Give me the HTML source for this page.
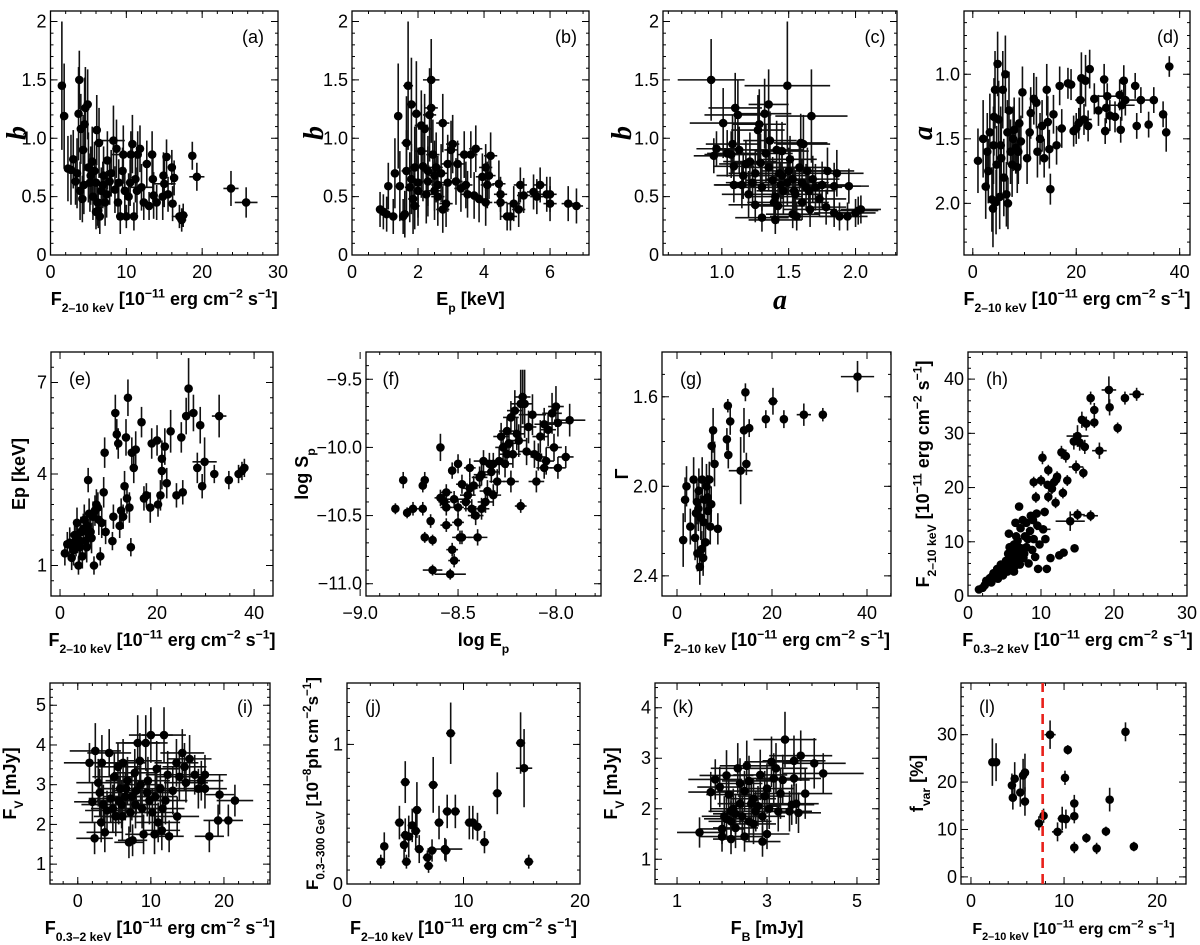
<!DOCTYPE html>
<html><head><meta charset="utf-8"><style>
html,body{margin:0;padding:0;background:#fff;}
svg{display:block;font-family:"Liberation Sans",Arial,sans-serif;}
</style></head><body>
<svg id="fig" width="1200" height="945" viewBox="0 0 1200 945"></svg>
<script>
// ---------- DATA ----------
const aX=[1.5,1.8,2.3,2.7,3.0,3.3,3.5,3.8,3.7,4.0,4.2,4.3,4.5,4.6,4.9,5.0,5.2,5.5,5.8,6.0,6.1,6.2,6.4,6.5,6.7,7.0,7.2,7.5,7.8,8.3,8.5,8.7,9.0,9.2,9.5,9.6,9.8,10.0,10.3,10.6,10.8,11.0,11.2,11.5,11.8,12.0,12.3,12.7,13.0,13.4,13.5,13.6,14.0,14.8,14.9,15.0,15.3,15.5,16.0,16.1,16.3,17.0,17.3,17.5,18.7,19.3,23.8,25.8,4.4,5.6,6.3,6.9,7.4,8.0,8.9,10.5,11.4,5.3,6.0,3.9];
const aY=[1.45,1.19,0.74,0.73,0.82,0.63,0.7,1.5,1.21,1.08,0.48,0.9,1.12,1.26,1.29,0.75,0.62,0.8,0.72,0.37,1.07,0.45,0.96,0.33,0.55,0.68,0.45,0.81,0.63,0.98,0.56,0.91,0.62,0.33,0.72,0.86,0.55,0.33,0.5,0.86,0.95,0.33,0.65,0.86,0.91,0.58,0.45,0.78,0.42,0.86,0.65,0.51,0.45,0.5,0.68,0.61,0.84,0.52,0.75,0.44,0.66,0.33,0.3,0.34,0.85,0.67,0.57,0.45,0.6,0.5,0.38,0.6,0.52,0.7,0.45,0.62,0.55,0.68,0.62,0.55];
const aXE=[0.2,0.2,0.3,0.3,0.3,0.3,0.3,0.3,0.3,0.3,0.3,0.3,0.3,0.3,0.3,0.5,0.5,0.5,0.5,0.4,0.4,0.4,0.5,0.4,0.5,0.5,0.5,0.5,0.5,1.5,0.5,0.5,0.5,0.4,0.5,1.5,0.5,0.4,0.5,0.5,0.5,0.4,0.5,0.5,0.5,1.5,0.5,0.5,0.5,0.5,0.5,0.5,0.5,0.5,0.5,1.5,0.5,0.5,0.5,0.5,0.5,1.0,0.6,0.6,0.5,1.0,1.0,1.5,0.4,0.5,0.5,0.5,0.5,0.5,0.5,0.5,0.5,0.5,0.5,0.4];
const aYE=[0.55,0.45,0.28,0.3,0.25,0.2,0.3,0.25,0.4,0.3,0.2,0.3,0.4,0.35,0.3,0.3,0.25,0.3,0.25,0.15,0.3,0.2,0.3,0.15,0.2,0.25,0.2,0.25,0.2,0.3,0.2,0.25,0.2,0.15,0.2,0.25,0.2,0.1,0.2,0.2,0.25,0.12,0.2,0.2,0.2,0.2,0.15,0.2,0.12,0.2,0.2,0.2,0.15,0.2,0.2,0.2,0.15,0.15,0.15,0.15,0.15,0.1,0.1,0.1,0.12,0.12,0.15,0.13,0.25,0.2,0.15,0.2,0.2,0.2,0.15,0.2,0.2,0.25,0.2,0.25];

const bX=[0.85,0.95,1.05,1.1,1.25,1.3,1.4,1.45,1.55,1.6,1.65,1.65,1.7,1.75,1.8,1.85,1.9,1.95,2.0,2.1,2.1,2.15,2.2,2.25,2.3,2.35,2.4,2.4,2.45,2.5,2.55,2.6,2.7,2.75,2.75,2.85,2.9,2.9,3.0,3.05,3.15,3.2,3.3,3.4,3.45,3.5,3.6,3.7,3.75,3.85,3.95,4.05,4.05,4.1,4.15,4.2,4.45,4.5,4.5,4.7,4.8,4.9,5.05,5.1,5.2,5.5,5.6,5.7,5.9,6.0,6.0,6.55,6.8,1.8,2.0,2.3,2.6,1.9,2.5];
const bY=[0.39,0.37,0.35,0.59,0.33,0.7,1.19,0.59,0.33,0.35,0.72,0.96,1.45,0.58,1.29,0.48,0.75,1.21,0.62,0.89,1.11,0.76,1.08,0.52,0.63,1.2,1.5,1.26,0.86,0.55,0.75,0.5,0.7,0.39,1.13,0.44,0.78,0.62,0.9,0.95,0.63,0.78,0.57,0.86,0.6,0.52,0.86,0.51,0.91,0.48,0.67,0.75,0.45,0.6,0.68,0.85,0.61,0.52,0.45,0.33,0.33,0.44,0.39,0.6,0.51,0.54,0.5,0.6,0.52,0.44,0.52,0.44,0.42,0.65,0.55,0.72,0.6,0.42,0.68];
const bXE=[0.1,0.1,0.1,0.1,0.12,0.12,0.12,0.12,0.12,0.12,0.15,0.15,0.15,0.15,0.15,0.15,0.15,0.15,0.15,0.2,0.2,0.2,0.2,0.2,0.2,0.2,0.25,0.2,0.2,0.2,0.2,0.2,0.2,0.2,0.2,0.2,0.2,0.2,0.2,0.2,0.2,0.2,0.2,0.2,0.2,0.2,0.2,0.2,0.2,0.2,0.2,0.2,0.2,0.2,0.2,0.2,0.2,0.2,0.2,0.2,0.2,0.2,0.2,0.2,0.2,0.2,0.2,0.2,0.2,0.2,0.2,0.2,0.2,0.15,0.15,0.2,0.2,0.15,0.2];
const bYE=[0.15,0.15,0.15,0.2,0.15,0.3,0.45,0.3,0.15,0.2,0.35,0.4,0.55,0.3,0.4,0.3,0.35,0.45,0.3,0.4,0.3,0.3,0.3,0.25,0.3,0.4,0.35,0.3,0.3,0.25,0.3,0.25,0.25,0.2,0.25,0.2,0.25,0.25,0.25,0.25,0.2,0.2,0.2,0.2,0.2,0.2,0.2,0.2,0.2,0.2,0.2,0.2,0.2,0.2,0.2,0.2,0.2,0.15,0.15,0.12,0.12,0.15,0.15,0.15,0.15,0.15,0.15,0.15,0.15,0.15,0.15,0.15,0.15,0.3,0.3,0.3,0.25,0.2,0.3];

const cX=[0.92,0.94,0.96,1.01,1.04,1.07,1.08,1.09,1.10,1.09,1.12,1.13,1.16,1.15,1.2,1.21,1.23,1.25,1.27,1.28,1.29,1.3,1.32,1.33,1.35,1.36,1.38,1.39,1.4,1.41,1.43,1.44,1.45,1.46,1.49,1.51,1.53,1.54,1.56,1.58,1.59,1.6,1.61,1.63,1.64,1.66,1.67,1.68,1.7,1.73,1.75,1.78,1.79,1.84,1.84,1.86,1.88,1.94,1.95,2.0,2.02,2.04,1.3,1.4,1.49,1.53,1.25,1.35,1.45,1.55,1.6,1.18,1.42,1.5,1.65];
const cY=[1.5,0.85,0.91,1.13,0.87,0.86,0.95,0.76,1.26,0.6,1.2,0.9,0.68,0.6,0.52,0.8,0.62,0.43,1.07,1.12,0.79,0.32,1.21,0.87,1.29,0.98,0.64,0.45,0.3,0.9,0.7,0.6,0.89,0.55,1.45,0.82,0.35,0.55,0.33,0.75,0.96,0.45,0.95,0.58,0.72,0.39,1.19,0.65,0.58,0.48,0.6,0.41,0.72,0.59,0.36,0.7,0.33,0.33,0.59,0.36,0.38,0.39,0.58,0.5,0.62,0.65,0.7,0.75,0.68,0.52,0.62,0.78,0.42,0.72,0.55];
const cXE=[0.25,0.15,0.15,0.25,0.15,0.2,0.2,0.15,0.2,0.15,0.25,0.2,0.2,0.2,0.2,0.2,0.2,0.2,0.2,0.2,0.2,0.2,0.2,0.2,0.15,0.2,0.2,0.2,0.2,0.2,0.2,0.2,0.2,0.2,0.32,0.2,0.2,0.2,0.2,0.2,0.2,0.2,0.2,0.2,0.2,0.2,0.27,0.2,0.2,0.2,0.2,0.15,0.2,0.2,0.15,0.2,0.15,0.15,0.15,0.15,0.15,0.15,0.2,0.2,0.2,0.2,0.2,0.2,0.2,0.2,0.2,0.2,0.2,0.2,0.2];
const cYE=[0.35,0.15,0.15,0.3,0.2,0.2,0.25,0.15,0.3,0.15,0.3,0.2,0.2,0.2,0.2,0.25,0.2,0.15,0.3,0.3,0.25,0.12,0.3,0.25,0.3,0.25,0.2,0.15,0.12,0.25,0.2,0.2,0.25,0.2,0.55,0.2,0.12,0.2,0.12,0.2,0.25,0.15,0.25,0.2,0.2,0.15,0.4,0.2,0.2,0.15,0.2,0.15,0.2,0.2,0.12,0.2,0.12,0.12,0.15,0.12,0.12,0.12,0.2,0.2,0.2,0.2,0.2,0.2,0.2,0.2,0.2,0.2,0.15,0.2,0.2];

const dX=[1,2,2.5,3,3.3,3.7,3.9,4.1,4.3,4.5,4.6,4.8,5.0,5.2,5.4,5.8,6.0,6.3,6.5,6.8,7.0,7.3,7.6,8.0,8.3,8.6,9.0,9.3,9.6,10.5,11.0,11.2,11.8,12.3,12.5,13.0,13.4,13.8,14.3,14.5,14.8,15.0,15.6,16.2,16.8,17.2,18.4,19.0,19.5,20.0,20.5,20.8,21.0,21.5,21.8,22.3,22.6,23.5,24.3,25.4,25.6,25.8,26.0,26.5,27.5,28.4,28.6,28.8,29.2,29.5,31.4,31.7,32.5,34,35,36.8,37.4,38.0,2.8,4.0,5.5,6.7,7.8,8.8];
const dY=[1.67,1.5,1.87,1.75,1.45,1.97,2.04,1.33,1.12,1.99,1.7,0.92,1.35,1.95,1.55,1.12,1.8,1.0,1.93,2.0,1.28,1.6,1.7,1.43,1.57,1.72,1.38,1.52,1.14,1.65,1.45,1.3,1.19,1.22,1.6,1.5,1.4,1.65,1.12,1.37,1.58,1.89,1.31,1.55,1.09,1.42,1.07,1.08,1.44,1.42,1.38,1.2,1.03,1.35,1.05,1.4,0.96,1.19,1.28,1.04,1.44,1.26,1.17,1.32,1.33,1.16,1.43,1.24,1.05,1.2,1.09,1.4,1.2,1.39,1.2,1.31,1.45,0.94,1.6,1.55,1.65,1.45,1.5,1.6];
const dXE=[0.5,0.5,0.5,0.5,0.5,0.5,0.5,0.5,0.5,0.5,0.5,0.5,0.5,0.5,0.5,0.5,0.5,0.5,0.5,0.5,0.5,0.5,0.5,0.5,0.5,0.5,0.5,0.5,0.5,0.6,0.6,0.6,0.6,0.6,0.6,0.6,0.6,0.6,0.6,0.6,0.6,0.6,0.6,0.6,0.8,0.8,0.8,0.8,0.8,0.8,0.8,1.0,0.8,1.5,0.8,0.8,0.8,0.8,0.8,0.8,0.8,0.8,2.5,0.8,0.8,0.8,0.8,2.5,0.8,0.8,0.8,0.8,3.0,0.8,0.8,0.8,0.8,0.8,0.5,0.5,0.5,0.5,0.5,0.5];
const dYE=[0.25,0.3,0.25,0.25,0.3,0.25,0.3,0.3,0.3,0.25,0.3,0.25,0.3,0.25,0.3,0.3,0.3,0.3,0.25,0.2,0.3,0.25,0.25,0.25,0.2,0.2,0.2,0.2,0.2,0.2,0.2,0.2,0.2,0.2,0.2,0.2,0.2,0.15,0.2,0.2,0.15,0.12,0.15,0.15,0.15,0.15,0.12,0.12,0.12,0.12,0.12,0.15,0.2,0.12,0.2,0.12,0.15,0.12,0.12,0.12,0.1,0.12,0.1,0.12,0.12,0.12,0.1,0.12,0.12,0.12,0.1,0.1,0.1,0.1,0.1,0.1,0.15,0.08,0.3,0.3,0.3,0.25,0.25,0.25];

const eX=[1,1.5,2,2.4,2.8,3,3.3,3.5,3.8,4,4.3,4.6,5,5.2,5.5,5.8,6,6.3,6.5,7,7.2,7.5,8,8.3,8.6,9,9.2,9.4,10.8,11,11.4,11.7,12,12.3,12.6,13,13.3,13.6,13.8,14,14.3,14.6,14.8,15.2,15.6,16.8,17.3,17.8,18.6,18.9,20,20.2,20.7,21,21,21.6,22,22.8,24,25,25.3,26,26.5,27.5,28.3,28.9,29.3,29.8,31.8,32.8,34.8,36.8,37.5,38,3.6,4.8,5.6,6.8,7.8,2.6,4.2,5.9];
const eY=[1.4,1.7,1.75,1.25,1.5,2.0,1.8,2.4,1.0,1.6,2.1,1.3,2.5,1.8,1.6,3.8,2.7,2.1,1.9,1.0,2.8,3.0,2.5,1.3,2.4,3.4,4.7,2.1,1.8,2.6,6.0,5.3,5.0,2.3,2.8,2.6,3.6,5.2,3.2,6.5,2.9,1.6,4.7,4.2,4.8,5.7,3.2,3.3,2.9,5.0,5.1,3.0,3.3,4.5,4.1,4.9,3.7,5.4,3.3,5.2,3.4,5.9,6.8,6.0,4.2,5.6,3.6,4.4,4.0,5.9,3.8,4.0,4.1,4.2,1.9,2.2,2.3,2.6,2.9,1.6,1.8,2.0];
const eXE=[0.3,0.3,0.3,0.3,0.3,0.3,0.3,0.3,0.3,0.3,0.3,0.3,0.3,0.3,0.3,0.4,0.4,0.4,0.4,0.4,0.4,0.4,0.4,0.4,0.4,0.4,0.4,0.4,0.5,0.5,0.5,0.5,0.5,0.5,0.5,0.5,0.5,0.5,0.5,0.5,0.5,0.5,0.5,0.5,0.5,0.5,0.6,0.6,0.6,0.6,0.6,0.6,0.6,0.6,0.6,0.6,0.6,0.6,0.6,0.6,0.6,0.6,0.6,0.8,0.8,0.8,0.6,2.5,0.8,1.5,0.8,0.8,0.8,0.8,0.3,0.3,0.3,0.4,0.4,0.3,0.3,0.3];
const eYE=[0.4,0.4,0.5,0.4,0.5,0.5,0.5,0.5,0.3,0.5,0.5,0.4,0.5,0.5,0.5,0.4,0.5,0.5,0.5,0.3,0.5,0.5,0.5,0.3,0.5,0.5,0.5,0.4,0.3,0.4,0.6,0.5,0.5,0.4,0.4,0.4,0.5,0.6,0.5,0.6,0.5,0.3,0.5,0.5,0.6,0.5,0.4,0.4,0.5,0.5,0.5,0.4,0.5,0.6,0.6,0.6,0.5,0.7,0.4,0.5,0.4,0.6,1.0,0.6,0.5,0.6,0.4,0.8,0.3,0.7,0.3,0.3,0.3,0.3,0.5,0.5,0.5,0.5,0.5,0.4,0.5,0.5];

const fX=[-8.82,-8.78,-8.76,-8.73,-8.68,-8.68,-8.67,-8.67,-8.63,-8.64,-8.63,-8.59,-8.59,-8.57,-8.56,-8.56,-8.56,-8.54,-8.53,-8.53,-8.52,-8.52,-8.50,-8.50,-8.50,-8.49,-8.48,-8.48,-8.46,-8.44,-8.44,-8.43,-8.41,-8.40,-8.39,-8.38,-8.37,-8.36,-8.35,-8.34,-8.32,-8.32,-8.30,-8.29,-8.28,-8.27,-8.25,-8.25,-8.24,-8.23,-8.23,-8.22,-8.21,-8.20,-8.18,-8.18,-8.17,-8.16,-8.15,-8.12,-8.11,-8.10,-8.09,-8.08,-8.06,-8.06,-8.05,-8.04,-8.02,-8.01,-8.00,-7.99,-7.99,-7.95,-7.93,-8.45,-8.42,-8.38,-8.33,-8.26,-8.19,-8.14];
const fY=[-10.45,-10.24,-10.48,-10.45,-10.45,-10.28,-10.24,-10.66,-10.68,-10.54,-10.9,-10.37,-10.0,-10.4,-10.57,-10.33,-10.44,-10.93,-10.75,-10.17,-10.83,-10.38,-10.12,-10.55,-10.44,-10.66,-10.66,-10.27,-10.4,-10.15,-10.3,-10.45,-10.5,-10.66,-10.22,-10.45,-10.1,-10.4,-10.32,-10.12,-10.12,-10.35,-10.25,-10.1,-9.92,-10.0,-9.88,-10.05,-9.97,-9.78,-10.25,-10.05,-9.73,-9.9,-10.43,-9.68,-9.63,-9.68,-10.03,-9.76,-10.05,-10.25,-10.07,-9.92,-10.15,-9.83,-10.1,-9.87,-9.75,-10.0,-9.7,-9.82,-10.15,-10.07,-9.8,-10.35,-10.28,-10.2,-10.18,-10.12,-9.95,-9.85];
const fXE=[0.02,0.02,0.02,0.03,0.02,0.02,0.02,0.02,0.02,0.02,0.05,0.03,0.02,0.03,0.03,0.03,0.03,0.08,0.03,0.02,0.03,0.05,0.02,0.03,0.03,0.03,0.05,0.03,0.03,0.03,0.04,0.04,0.04,0.05,0.04,0.04,0.05,0.04,0.04,0.04,0.04,0.04,0.04,0.04,0.04,0.04,0.04,0.04,0.04,0.04,0.04,0.04,0.04,0.04,0.03,0.05,0.04,0.04,0.04,0.07,0.04,0.04,0.04,0.04,0.04,0.05,0.04,0.04,0.05,0.04,0.04,0.05,0.04,0.04,0.08,0.04,0.04,0.04,0.04,0.04,0.04,0.04];
const fYE=[0.04,0.06,0.04,0.05,0.05,0.05,0.06,0.04,0.04,0.05,0.04,0.06,0.1,0.06,0.05,0.06,0.06,0.04,0.05,0.06,0.05,0.06,0.07,0.06,0.06,0.05,0.05,0.07,0.07,0.07,0.08,0.07,0.07,0.06,0.08,0.08,0.08,0.08,0.08,0.08,0.08,0.08,0.09,0.1,0.1,0.1,0.1,0.1,0.1,0.12,0.08,0.1,0.15,0.12,0.05,0.25,0.2,0.25,0.1,0.15,0.1,0.08,0.1,0.12,0.08,0.12,0.1,0.12,0.15,0.1,0.15,0.1,0.08,0.08,0.12,0.07,0.07,0.08,0.08,0.1,0.12,0.12];

const gX=[1.3,1.7,2,2.8,3.5,3.8,4,4.3,4.5,4.6,4.8,5,5.2,5.3,5.5,5.8,6,6.2,6.5,6.8,7.0,7.2,7.3,7.6,7.9,8.6,10.5,10.8,10.7,11.2,13.4,14.1,14.4,14.6,15.2,18.7,20.2,22.5,26.7,30.7,38,5.6,6.4,4.2];
const gY=[2.24,2.06,2.0,2.18,1.97,2.23,2.12,2.3,2.1,2.02,2.36,2.14,2.28,1.97,2.32,2.06,2.25,2.0,2.11,1.97,2.18,2.08,1.82,1.75,1.9,2.19,1.79,1.86,1.64,1.71,1.93,1.75,1.58,1.9,1.74,1.7,1.62,1.7,1.68,1.68,1.51,2.16,2.05,2.07];
const gXE=[0.3,0.3,0.3,0.3,0.3,0.3,0.3,0.3,0.3,0.3,0.3,0.3,0.3,0.3,0.3,0.3,0.3,0.3,0.3,0.3,0.3,0.3,0.3,0.3,0.3,0.5,0.5,0.5,0.5,0.5,2.5,0.5,0.5,0.8,0.5,0.8,1.0,0.8,1.5,0.8,3.5,0.3,0.3,0.3];
const gYE=[0.12,0.1,0.09,0.08,0.1,0.1,0.1,0.08,0.1,0.1,0.08,0.1,0.08,0.1,0.08,0.08,0.08,0.1,0.08,0.08,0.08,0.08,0.08,0.1,0.1,0.07,0.05,0.06,0.03,0.06,0.15,0.1,0.04,0.05,0.04,0.04,0.06,0.04,0.05,0.03,0.07,0.1,0.1,0.1];

const hX=[1.5,2,2.3,2.5,3,3.2,3.5,3.8,4,4.3,4.5,4.8,5,5.2,5.4,5.5,5.6,5.8,6,6,6.2,6.3,6.4,6.5,6.6,6.8,7,7,7.2,7.3,7.5,7.6,7.8,8,8,8.3,8.5,8.6,8.8,9,9,9.2,9.3,9.5,9.6,9.8,10,10.2,10.3,10.5,10.6,10.8,11,11,11.3,11.5,11.8,12,12.2,12.5,12.8,13,13.1,13.4,13.6,14,14.5,14.6,14.8,15,15,15.3,15.6,15.8,16,16.2,16.8,16.8,17.3,17.3,18,19.3,19.4,20.5,21.5,23.1,5.9,6.1,6.7,6.9,7.1,7.4,5.7,6.3,7.7,8.2,4.6,4.1,3.4,8.9,9.4,10.9,12.1,6.6];
const hY=[1.2,1.5,2,2.8,3.3,2.5,4.2,3.5,5,4.2,5.8,3.8,5.2,6.5,4.5,7.8,11.5,6,8.5,4.8,7,9.5,5.5,13.5,8,10.2,6.5,16.5,12.5,8.8,14,7,11,9,13.5,6,12,14.8,8.5,10.5,21,7.2,18.2,13,5,9.5,21.3,25.5,12.3,15.5,10.5,5,18.3,23.2,7,19.8,21,17.2,22,7.5,26.5,19,8,25.8,21.3,13.8,28.5,8.8,23.8,29.5,15,28.3,32.5,22.7,27.5,31.8,36.5,14.8,34.3,32,26.8,38,34.8,31,36.5,37.2,7.2,6.2,7.5,9,5.8,8,9,4.5,7.8,10.5,4.8,3.2,3.8,14,15.2,20.5,21.5,11];
const hXE=[0.3];
const hYE=[0.4,0.4,0.4,0.4,0.4,0.4,0.4,0.4,0.5,0.4,0.5,0.4,0.5,0.5,0.4,0.5,0.6,0.5,0.5,0.4,0.5,0.6,0.4,0.6,0.5,0.6,0.5,0.7,0.6,0.5,0.7,0.5,0.6,0.5,0.7,0.5,0.6,0.7,0.5,0.6,1.0,0.5,1.0,0.7,0.5,0.6,1.0,1.2,0.7,0.8,0.6,0.5,1.0,1.0,0.6,1.0,1.0,1.0,1.0,0.6,1.2,1.0,0.6,1.2,1.0,1.8,1.5,0.6,1.2,2.0,1.0,1.5,1.5,1.0,1.3,1.3,1.2,1.0,1.3,1.0,1.5,2.5,1.5,1.0,1.2,1.2,0.5];
const hXE2=[0.3,0.3,0.3,0.3,0.3,0.3,0.3,0.3,0.3,0.3,0.3,0.3,0.3,0.3,0.3,0.3,0.3,0.3,0.3,0.3,0.3,0.3,0.3,0.3,0.3,0.3,0.3,0.3,0.3,0.3,0.3,0.3,0.3,0.3,0.3,0.3,0.3,0.3,0.3,0.3,0.4,0.3,0.4,0.3,0.3,0.3,0.4,0.4,1.0,0.4,0.3,0.3,0.4,0.4,0.3,0.4,0.4,0.4,0.4,0.3,0.4,0.4,0.3,0.4,0.4,2.0,0.5,0.3,1.0,1.5,1.0,0.5,0.5,0.4,0.5,0.4,0.4,1.0,0.5,0.4,1.0,1.0,0.5,0.4,0.5,1.0,0.3];

const iX=[1.6,2,2.3,2.4,2.8,3.0,3.2,3.3,3.5,3.7,4.0,4.3,4.5,5.0,5.2,5.5,5.8,6,6.2,6.5,6.8,7,7.2,7.5,7.8,8,8.2,8.5,8.8,9,9.3,9.6,9.8,10,10.2,10.5,10.8,11,11.3,11.5,11.8,12,12.3,12.5,13,13.5,13.6,13.9,14.3,14.6,14.8,15.3,16.0,16.5,16.9,17.4,17.4,18.0,19.2,19.4,20.6,21.5,5.6,6.6,7.4,8.6,9.5,4.8,6.1,7.9,10.6,11.6];
const iY=[3.55,2.57,1.65,3.85,3.05,2.8,2.05,3.55,2.5,1.8,2.35,3.8,2.65,3.2,2.2,3.45,2.9,2.5,3.55,2.7,3.1,1.55,2.3,1.6,3.3,2.85,4.05,3.6,2.4,1.75,4.05,3.1,2.6,4.25,2.3,1.75,3.4,2.05,2.9,1.85,4.25,2.6,3.25,1.7,2.85,3.55,2.2,3.2,3.8,3.45,3.05,3.65,3.25,2.9,3.1,3.25,2.9,1.7,2.1,2.75,2.1,2.6,2.6,2.9,2.7,3.0,2.8,2.4,2.2,2.5,2.7,2.4];
const iXE=[3.5,2.5,2.5,3.5,3,3,3,3,3,2.5,3,3,3,3,3,3,3,3.5,3,3,3,2,3,2,3,3,3,3,3,2.5,3,3,3,3,3,2.5,3,3,3,2.5,3,3,3,2,3,3,3,3,3,3,3,3,3,3,3,3,3,2,2,2,2,2.5,3];
const iYE=[0.5,0.5,0.4,0.7,0.6,0.6,0.5,0.7,0.5,0.5,0.5,0.6,0.6,0.6,0.5,0.6,0.6,0.6,0.6,0.6,0.6,0.4,0.5,0.4,0.6,0.6,0.7,0.7,0.5,0.5,0.7,0.6,0.6,0.7,0.6,0.5,0.7,0.5,0.6,0.5,0.7,0.6,0.6,0.4,0.6,0.6,0.5,0.6,0.6,0.6,0.5,0.6,0.5,0.5,0.5,0.5,0.5,0.4,0.4,0.5,0.4,0.4,0.6];

const jX=[2.9,3.2,4.5,4.9,5.0,5.0,5.1,5.3,5.6,5.9,6.0,6.2,6.9,7.0,7.3,7.4,7.9,8.4,8.5,8.6,8.9,9.3,10.5,10.8,11.2,11.8,12.9,14.9,15.2,15.6];
const jY=[0.16,0.27,0.44,0.28,0.35,0.73,0.16,0.34,0.42,0.38,0.53,0.25,0.19,0.13,0.24,0.71,0.44,0.25,0.24,0.52,1.08,0.52,0.44,0.44,0.41,0.3,0.65,1.01,0.83,0.16];
const jXE=[0.4,0.3,0.4,0.3,0.4,0.4,0.4,0.4,0.4,0.4,0.4,0.4,0.4,0.4,0.4,0.4,0.4,1.5,0.4,0.4,0.4,0.4,0.4,0.4,0.4,0.4,0.4,0.4,0.7,0.4];
const jYE=[0.05,0.1,0.12,0.1,0.12,0.15,0.05,0.15,0.12,0.13,0.2,0.1,0.05,0.05,0.08,0.2,0.12,0.08,0.08,0.12,0.22,0.12,0.12,0.12,0.1,0.08,0.15,0.22,0.28,0.05];

const kX=[1.5,1.75,1.85,1.95,2.0,2.0,2.05,2.1,2.15,2.2,2.2,2.25,2.3,2.35,2.4,2.45,2.5,2.5,2.55,2.6,2.65,2.7,2.75,2.8,2.85,2.9,2.9,2.95,3.0,3.0,3.05,3.1,3.15,3.2,3.25,3.3,3.35,3.4,3.5,3.55,3.6,3.6,3.65,3.7,3.75,3.85,4.05,4.25,2.1,2.3,2.6,2.4,2.7,2.2];
const kY=[1.53,2.33,2.58,2.43,1.6,1.45,1.85,2.66,2.28,1.75,1.4,2.0,1.62,2.8,2.5,1.85,2.35,1.45,2.85,2.55,2.1,1.7,1.95,2.05,2.67,1.35,1.85,2.25,1.5,2.4,2.0,2.93,2.6,2.8,1.95,2.3,2.57,3.37,1.95,2.08,2.95,2.6,2.1,1.92,3.05,2.3,2.9,2.7,1.8,1.9,1.75,2.1,2.2,1.95];
const kXE=[0.5,0.5,0.6,0.5,0.5,0.5,0.5,0.6,0.5,0.5,0.4,0.5,0.5,0.6,0.5,0.5,0.6,0.4,0.6,0.6,0.5,0.5,0.5,0.5,0.6,0.4,0.5,0.6,0.5,0.6,0.5,0.6,0.6,0.7,0.5,0.6,0.6,0.7,0.5,0.5,0.7,0.6,0.5,0.5,0.7,0.6,0.7,0.9,0.5];
const kYE=[0.3,0.4,0.4,0.4,0.3,0.3,0.4,0.5,0.4,0.4,0.3,0.4,0.4,0.5,0.5,0.4,0.4,0.3,0.5,0.5,0.4,0.4,0.4,0.4,0.5,0.3,0.4,0.5,0.3,0.5,0.4,0.5,0.5,0.5,0.4,0.5,0.5,0.55,0.4,0.4,0.5,0.5,0.4,0.4,0.5,0.5,0.5,0.4,0.4];

const lX=[2.3,2.7,4.4,4.5,4.7,5.3,5.6,5.8,5.8,7.3,7.8,8.5,9.3,9.8,10.1,10.2,10.4,11.1,11.1,11.1,12.4,13.5,14.5,14.9,16.6,17.5];
const lY=[24.2,24.2,19.3,16.7,20.7,17.8,21.4,15.9,22,11.3,12.9,30.0,9.5,12.3,20.9,12.2,26.8,15.5,12.8,6.2,8.2,6.0,9.6,16.3,30.6,6.4];
const lXE=[0.3,0.4,0.3,0.3,0.3,0.3,0.3,0.3,0.3,0.3,0.3,0.6,0.6,0.5,0.4,0.5,0.4,0.4,0.4,0.4,0.4,0.4,0.4,0.3,0.4,0.4];
const lYE=[5,4,2.5,2.5,3.5,3,3.5,3,4,1.5,1.5,3,2,2.5,1.5,2,1,1.8,1.5,1.2,1,1.2,1,2.5,2,1];
const lThreshold=[7.7];

// ---------- DRAWING ----------
const NS='http://www.w3.org/2000/svg';
const svg=document.getElementById('fig');
function mk(tag,attrs,parent){const e=document.createElementNS(NS,tag);for(const k in attrs)e.setAttribute(k,attrs[k]);(parent||svg).appendChild(e);return e;}
function rich(t,s,fs){
  const re=/([_^])\{([^}]*)\}/g;let last=0,off=0,m;
  const add=(txt,shift,small)=>{const sp=document.createElementNS(NS,'tspan');sp.setAttribute('dy',(shift-off).toFixed(2));off=shift;if(small)sp.setAttribute('font-size',(fs*0.68).toFixed(1));sp.textContent=txt;t.appendChild(sp);};
  while((m=re.exec(s))){if(m.index>last)add(s.slice(last,m.index),0,false);add(m[2],m[1]==='_'?fs*0.38:-fs*0.42,true);last=re.lastIndex;}
  if(last<s.length)add(s.slice(last),0,false);
}
let clipId=0;
function panel(p){
  const g=mk('g',{});
  
  
  const sx=v=>p.L+(v-p.xr[0])/(p.xr[1]-p.xr[0])*(p.R-p.L);
  const sy=v=>p.B-(v-p.yr[0])/(p.yr[1]-p.yr[0])*(p.B-p.T);
  const frame=mk('rect',{x:p.L,y:p.T,width:p.R-p.L,height:p.B-p.T,fill:'none',stroke:'#000','stroke-width':1.3},g);
  
  
  const tg=mk('g',{stroke:'#000','stroke-width':1},g);
  
  
  const xlo=Math.min(...p.xr),xhi=Math.max(...p.xr),ylo=Math.min(...p.yr),yhi=Math.max(...p.yr);
  for(let v=Math.ceil(xlo/p.xm-1e-6)*p.xm;v<=xhi+1e-9;v+=p.xm){const X=sx(v);mk('line',{x1:X,x2:X,y1:p.B,y2:p.B-3},tg);mk('line',{x1:X,x2:X,y1:p.T,y2:p.T+3},tg);}
  for(let v=Math.ceil(ylo/p.ym-1e-6)*p.ym;v<=yhi+1e-9;v+=p.ym){const Y=sy(v);mk('line',{x1:p.L,x2:p.L+3,y1:Y,y2:Y},tg);mk('line',{x1:p.R,x2:p.R-3,y1:Y,y2:Y},tg);}
  p.xt.forEach((v,i)=>{const X=sx(v);mk('line',{x1:X,x2:X,y1:p.B,y2:p.B-7},tg);mk('line',{x1:X,x2:X,y1:p.T,y2:p.T+7},tg);
    const t=mk('text',{x:X,y:p.B+23,'text-anchor':'middle','font-size':18},g);t.textContent=p.xl[i];
    
    });
  p.yt.forEach((v,i)=>{const Y=sy(v);mk('line',{x1:p.L,x2:p.L+7,y1:Y,y2:Y},tg);mk('line',{x1:p.R,x2:p.R-7,y1:Y,y2:Y},tg);
    const t=mk('text',{x:p.L-4,y:Y+6,'text-anchor':'end','font-size':18},g);t.textContent=p.yl[i];
    
    });
  const cid='c'+(clipId++);
  const cp=mk('clipPath',{id:cid},g);mk('rect',{x:p.L,y:p.T,width:p.R-p.L,height:p.B-p.T},cp);
  const mg=mk('g',{'clip-path':'url(#'+cid+')'},g);
  
  
  const eg=mk('g',{stroke:'#111','stroke-width':1.6},mg);
  p.x.forEach((xv,i)=>{const yv=p.y[i];const xe=p.xe[i]!==undefined?p.xe[i]:p.xe[p.xe.length-1];const ye=p.ye[i]!==undefined?p.ye[i]:p.ye[p.ye.length-1];
    const X=sx(xv),Y=sy(yv);
    const l1=mk('line',{x1:sx(xv-xe),x2:sx(xv+xe),y1:Y,y2:Y},eg);
    
    
    const l2=mk('line',{x1:X,x2:X,y1:sy(yv-ye),y2:sy(yv+ye)},eg);
    
    
  });
  p.x.forEach((xv,i)=>{const c=mk('circle',{cx:sx(xv),cy:sy(p.y[i]),r:4.3,fill:'#000'},mg);
    
    });
  if(p.extra)p.extra(mg,sx,sy);
  const pl=mk('text',{x:p.lab[0],y:p.lab[1],'text-anchor':'middle','font-size':18},g);pl.textContent=p.label;
  
  
  const xt=mk('text',{x:(p.L+p.R)/2,y:p.B+50,'text-anchor':'middle','font-size':p.xfs||18,'font-weight':'bold'},g);
  
  
  if(p.xserif){xt.setAttribute('font-family','"Liberation Serif",serif');xt.setAttribute('font-style','italic');xt.setAttribute('font-size',28);xt.setAttribute('y',p.B+54);xt.textContent=p.xtitle;}
  else rich(xt,p.xtitle,p.xfs||18);
  const yc=(p.T+p.B)/2;
  const yt=mk('text',{x:p.yx,y:yc,'text-anchor':'middle','font-size':p.yfs||18,'font-weight':'bold',transform:`rotate(-90 ${p.yx} ${yc})`},g);
  
  
  if(p.yserif){yt.setAttribute('font-family','"Liberation Serif",serif');yt.setAttribute('font-style','italic');yt.setAttribute('font-size',28);yt.textContent=p.ytitle;}
  else rich(yt,p.ytitle,p.yfs||18);
}
const FX='F_{2–10 keV} [10^{−11} erg cm^{−2} s^{−1}]';
const FS='F_{0.3–2 keV} [10^{−11} erg cm^{−2} s^{−1}]';
const R1={T:11,B:255},R2={T:352,B:596},R3={T:683,B:884};
const bt=[0,0.5,1.0,1.5,2],btl=['0','0.5','1.0','1.5','2'];
panel({name:'panel-a',L:50.5,R:278,...R1,xr:[0,30],yr:[0,2.09],xt:[0,10,20,30],xl:['0','10','20','30'],xm:2,yt:bt,yl:btl,ym:0.1,x:aX,y:aY,xe:aXE,ye:aYE,label:'(a)',lab:[253,43],xtitle:FX,ytitle:'b',yserif:true,yx:26});
panel({name:'panel-b',L:352,R:589,...R1,xr:[0,7.18],yr:[0,2.09],xt:[0,2,4,6],xl:['0','2','4','6'],xm:0.5,yt:bt,yl:btl,ym:0.1,x:bX,y:bY,xe:bXE,ye:bYE,label:'(b)',lab:[566,43],xtitle:'E_{p} [keV]',ytitle:'b',yserif:true,yx:323});
panel({name:'panel-c',L:663,R:897,...R1,xr:[0.56,2.31],yr:[0,2.09],xt:[1.0,1.5,2.0],xl:['1.0','1.5','2.0'],xm:0.1,yt:bt,yl:btl,ym:0.1,x:cX,y:cY,xe:cXE,ye:cYE,label:'(c)',lab:[875,43],xtitle:'a',xserif:true,ytitle:'b',yserif:true,yx:631});
panel({name:'panel-d',L:964,R:1190,...R1,xr:[-1.7,42],yr:[2.40,0.51],xt:[0,20,40],xl:['0','20','40'],xm:5,yt:[1.0,1.5,2.0],yl:['1.0','1.5','2.0'],ym:0.1,x:dX,y:dY,xe:dXE,ye:dYE,label:'(d)',lab:[1168,43],xtitle:FX,ytitle:'a',yserif:true,yx:932});
panel({name:'panel-e',L:51,R:273,...R2,xr:[-1.86,43.9],yr:[0,8],xt:[0,20,40],xl:['0','20','40'],xm:5,yt:[1,4,7],yl:['1','4','7'],ym:0.5,x:eX,y:eY,xe:eXE,ye:eYE,label:'(e)',lab:[80,385],xtitle:FX,ytitle:'Ep [keV]',yx:25});
panel({name:'panel-f',L:366,R:601,...R2,xr:[-8.97,-7.77],yr:[-11.09,-9.30],xt:[-9.0,-8.5,-8.0],xl:['−9.0','−8.5','−8.0'],xm:0.1,yt:[-11.0,-10.5,-10.0,-9.5],yl:['−11.0','−10.5','−10.0','−9.5'],ym:0.1,x:fX,y:fY,xe:fXE,ye:fYE,label:'(f)',lab:[391,385],xtitle:'log E_{p}',ytitle:'log S_{p}',yx:308});
panel({name:'panel-g',L:662,R:891,...R2,xr:[-3.16,45.05],yr:[2.49,1.40],xt:[0,20,40],xl:['0','20','40'],xm:5,yt:[1.6,2.0,2.4],yl:['1.6','2.0','2.4'],ym:0.1,x:gX,y:gY,xe:gXE,ye:gYE,label:'(g)',lab:[691,385],xtitle:FX,ytitle:'Γ',yx:628});
panel({name:'panel-h',L:968,R:1187,...R2,xr:[0,30],yr:[0,45],xt:[0,10,20,30],xl:['0','10','20','30'],xm:2,yt:[0,10,20,30,40],yl:['0','10','20','30','40'],ym:2,x:hX,y:hY,xe:hXE2,ye:hYE,label:'(h)',lab:[997,385],xtitle:FS,ytitle:FX,yx:929});
panel({name:'panel-i',L:50,R:270,...R3,xr:[-3.8,26.3],yr:[0.5,5.56],xt:[0,10,20],xl:['0','10','20'],xm:2,yt:[1,2,3,4,5],yl:['1','2','3','4','5'],ym:0.2,x:iX,y:iY,xe:iXE,ye:iYE,label:'(i)',lab:[245,713],xtitle:FS,ytitle:'F_{V} [mJy]',yx:16});
panel({name:'panel-j',L:347,R:580,...R3,xr:[0,20],yr:[0,1.44],xt:[0,10,20],xl:['0','10','20'],xm:2,yt:[0,1],yl:['0','1'],ym:0.1,x:jX,y:jY,xe:jXE,ye:jYE,label:'(j)',lab:[373,713],xtitle:'F_{2–10 keV} [10^{−11} erg cm^{−2}  s^{−1}]',ytitle:'F_{0.3–300 GeV} [10^{−8}ph cm^{−2}s^{−1}]',yfs:17,yx:318});
panel({name:'panel-k',L:655,R:879,...R3,xr:[0.51,5.49],yr:[0.51,4.49],xt:[1,3,5],xl:['1','3','5'],xm:0.5,yt:[1,2,3,4],yl:['1','2','3','4'],ym:0.2,x:kX,y:kY,xe:kXE,ye:kYE,label:'(k)',lab:[683,713],xtitle:'F_{B} [mJy]',ytitle:'F_{V} [mJy]',yx:617});
panel({name:'panel-l',L:961,R:1186,...R3,xr:[-1.07,23.1],yr:[-1.5,40.9],xt:[0,10,20],xl:['0','10','20'],xm:2,yt:[0,10,20,30],yl:['0','10','20','30'],ym:2,x:lX,y:lY,xe:lXE,ye:lYE,label:'(l)',lab:[987,713],xtitle:FX,xfs:16,ytitle:'f_{var} [%]',yx:923,
  extra:(mg,sx,sy)=>{lThreshold.forEach(v=>{const ln=mk('line',{x1:sx(v),x2:sx(v),y1:sy(-1.5),y2:sy(40.9),stroke:'#e8201a','stroke-width':2.6,'stroke-dasharray':'10,6'},mg);
    
    });}});
</script>
</body></html>
